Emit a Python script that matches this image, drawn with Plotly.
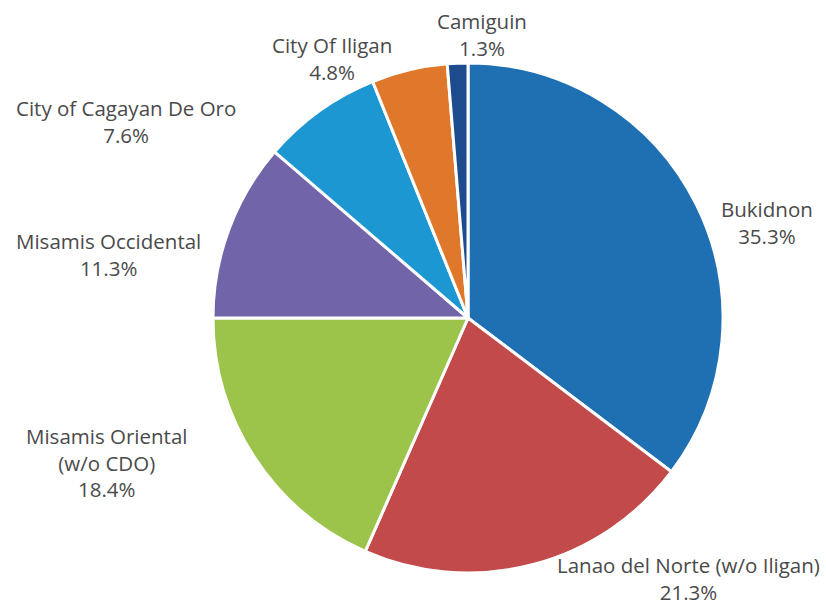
import plotly.graph_objects as go

labels = ["Bukidnon", "Lanao del Norte (w/o Iligan)", "Misamis Oriental (w/o CDO)",
          "Misamis Occidental", "City of Cagayan De Oro", "City Of Iligan", "Camiguin"]
display = ["Bukidnon", "Lanao del Norte (w/o Iligan)", "Misamis Oriental<br>(w/o CDO)",
           "Misamis Occidental", "City of Cagayan De Oro", "City Of Iligan", "Camiguin"]
values = [35.3, 21.3, 18.4, 11.3, 7.6, 4.8, 1.3]
colors = ["#1f6fb3", "#c24a4a", "#9cc34a", "#7264a8", "#1d97d2", "#e0782c", "#1d4c8e"]

# label centre positions in pixels (layout)
label_pos = [(767, 222), (688, 578), (106, 462), (108, 254), (126, 121), (332, 58), (482, 34)]

W, H = 826, 606
cx, cy, r = 468, 318, 255

fig = go.Figure(go.Pie(
    labels=labels, values=values, sort=False, direction="clockwise", rotation=0,
    marker=dict(colors=colors, line=dict(color="white", width=3)),
    textinfo="none", hoverinfo="label+percent", showlegend=False,
    domain=dict(x=[(cx - r) / W, (cx + r) / W], y=[(H - cy - r) / H, (H - cy + r) / H]),
))

for txt, v, (px, py) in zip(display, values, label_pos):
    fig.add_annotation(
        x=px / W, y=1 - py / H, xref="paper", yref="paper",
        text=f"{txt}<br>{v:.1f}%", showarrow=False, align="center",
        xanchor="center", yanchor="middle",
        font=dict(family="Open Sans, sans-serif", size=20.5, color="#4a4a4a"),
    )

fig.update_layout(width=W, height=H, margin=dict(l=0, r=0, t=0, b=0),
                  paper_bgcolor="white", plot_bgcolor="white")
fig.write_html("out.html")
